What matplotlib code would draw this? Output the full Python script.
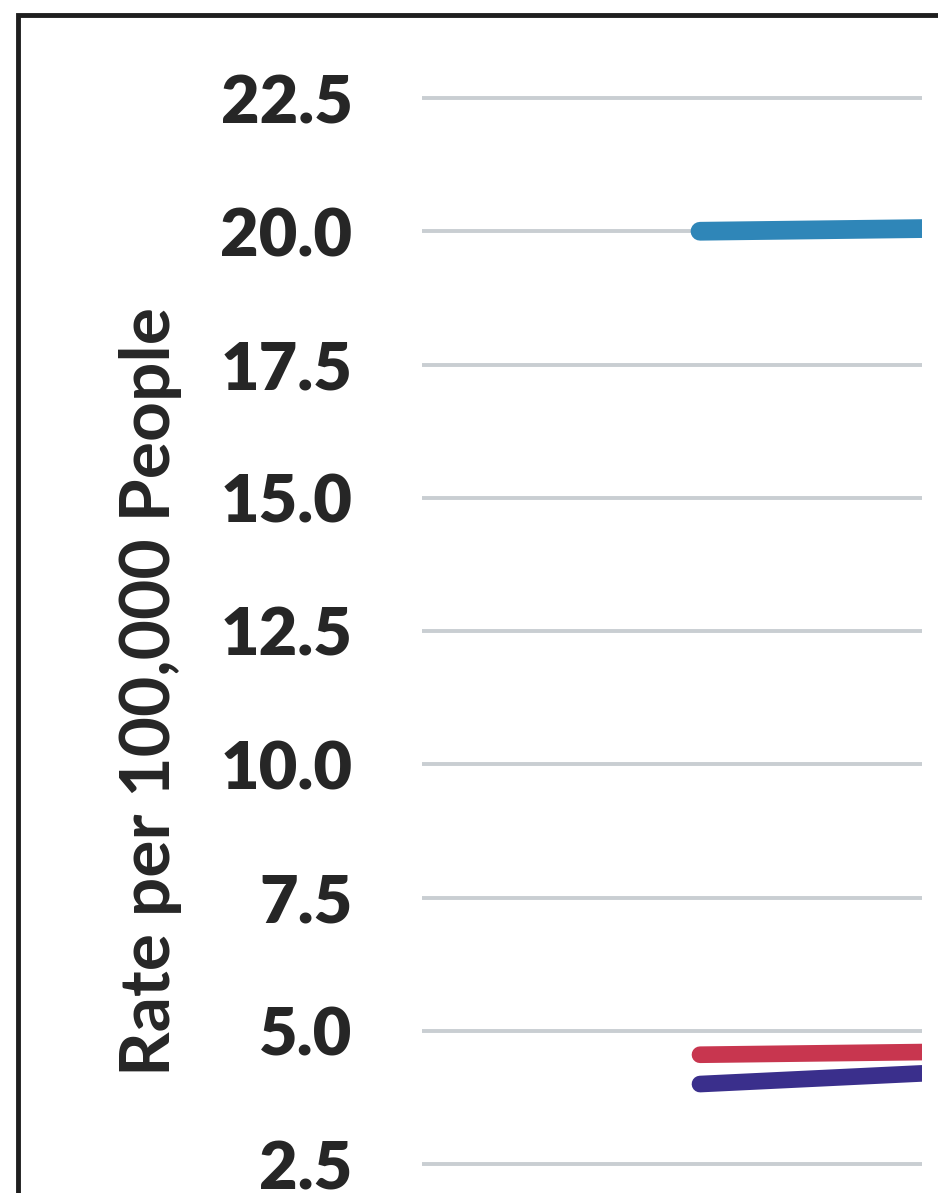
import matplotlib
matplotlib.use("Agg")
import matplotlib.pyplot as plt
from matplotlib.patches import Rectangle

# data (chart is a cropped scan; only the right-hand part of the series is visible)
years = [2019, 2020]
blue_rate = [20.0, 20.05]
red_rate = [4.55, 4.6]
purple_rate = [4.0, 4.2]

y_ticks = [2.5, 5.0, 7.5, 10.0, 12.5, 15.0, 17.5, 20.0, 22.5]
y_label = "Rate per 100,000 People"

SERIES_COLORS = {
    'blue': '#2f86b8',
    'red': '#c8364f',
    'purple': '#3a2f8c',
}
TEXT_COLOR = '#262626'
GRID_COLOR = '#c9ced2'

plt.rcParams['font.family'] = ['Lato', 'DejaVu Sans']

W, H = 938, 1193
fig = plt.figure(figsize=(W / 100, H / 100), dpi=100)

# scanned frame around the original chart (only top and left edges visible)
fig.patches.append(Rectangle((18 / W, -0.1), 1.2, (H - 15) / H + 0.1,
                             transform=fig.transFigure, fill=False,
                             edgecolor='#1e1e1e', linewidth=3.5))

# axes placed so that 22.5 sits at y=98px and 2.5 at y=1164px
ax_left, ax_right = 422 / W, 922 / W
ax_bottom, ax_top = 0.0, (H - 20) / H
ax = fig.add_axes([ax_left, ax_bottom, ax_right - ax_left, ax_top - ax_bottom])

px_per_unit = (1164 - 98) / 20.0
ymin = 2.5 - (H - 1164) / px_per_unit
ymax = 22.5 + (98 - 20) / px_per_unit
ax.set_ylim(ymin, ymax)

start_frac = (700 - 422) / (922 - 422)
ax.set_xlim(years[0] - start_frac / (1 - start_frac) * (years[1] - years[0]), years[1])

ax.plot(years, blue_rate, color=SERIES_COLORS['blue'], linewidth=13.5,
        solid_capstyle='round', zorder=3)
ax.plot(years, red_rate, color=SERIES_COLORS['red'], linewidth=12,
        solid_capstyle='round', zorder=3)
ax.plot(years, purple_rate, color=SERIES_COLORS['purple'], linewidth=12,
        solid_capstyle='round', zorder=3)

ax.set_yticks(y_ticks)
ax.set_yticklabels([f"{v:.1f}" for v in y_ticks], fontsize=48,
                   fontweight='heavy', color=TEXT_COLOR)
ax.tick_params(axis='y', length=0, pad=50)
ax.set_xticks([])
ax.grid(axis='y', color=GRID_COLOR, linewidth=2.8, zorder=1)
for s in ax.spines.values():
    s.set_visible(False)

fig.text(150 / W, 1 - 692 / H, y_label, rotation=90, ha='center', va='center',
         fontsize=50, fontweight='bold', color=TEXT_COLOR)

fig.savefig("out.png", dpi=100, facecolor='white')
